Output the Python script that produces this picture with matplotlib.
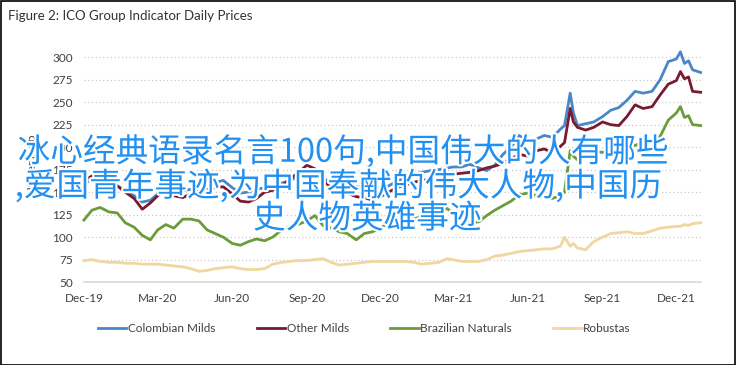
import matplotlib
matplotlib.use("Agg")
import matplotlib.pyplot as plt
import matplotlib.dates as mdates
import matplotlib.patheffects as pe
from matplotlib.patches import Rectangle
import pandas as pd

plt.rcParams["font.family"] = ["Lato", "DejaVu Sans"]

# ── data (US cents/lb) ────────────────────────────────────────────────────────
dates = [
    "2019-12-01", "2019-12-11", "2019-12-21",
    "2020-01-01", "2020-01-11", "2020-01-21", "2020-02-01", "2020-02-11", "2020-02-21",
    "2020-03-01", "2020-03-11", "2020-03-21", "2020-04-01", "2020-04-11", "2020-04-21",
    "2020-05-01", "2020-05-11", "2020-05-21", "2020-06-01", "2020-06-11", "2020-06-21",
    "2020-07-01", "2020-07-11", "2020-07-21", "2020-08-01", "2020-08-11", "2020-08-21",
    "2020-09-01", "2020-09-11", "2020-09-21", "2020-10-01", "2020-10-11", "2020-10-21",
    "2020-11-01", "2020-11-11", "2020-11-21", "2020-12-01", "2020-12-11", "2020-12-21",
    "2021-01-01", "2021-01-11", "2021-01-21", "2021-02-01", "2021-02-11", "2021-02-21",
    "2021-03-01", "2021-03-11", "2021-03-21", "2021-04-01", "2021-04-11", "2021-04-21",
    "2021-05-01", "2021-05-11", "2021-05-21", "2021-06-01", "2021-06-11", "2021-06-21",
    "2021-07-01", "2021-07-11", "2021-07-16", "2021-07-23", "2021-07-27",
    "2021-08-01", "2021-08-11", "2021-08-21",
    "2021-09-01", "2021-09-11", "2021-09-21", "2021-10-01", "2021-10-11", "2021-10-21",
    "2021-11-01", "2021-11-11", "2021-11-21",
    "2021-12-01", "2021-12-06", "2021-12-11", "2021-12-16", "2021-12-21", "2021-12-31",
]

colombian = [
    160, 163, 162,
    161, 157, 152, 146, 139, 141,
    148, 156, 154, 152, 153, 156,
    160, 161, 163, 155, 149, 150,
    153, 155, 156, 160, 163, 167,
    174, 172, 166, 160, 158, 157,
    156, 155, 153, 154, 157, 162,
    166, 170, 172, 174, 175, 177,
    178, 178, 181, 177, 174, 180,
    192, 200, 213, 206, 209, 213,
    211, 220, 224, 260, 238,
    224, 226, 228,
    234, 241, 244, 252, 262, 260,
    262, 275, 295,
    298, 306, 293, 296, 286, 283,
]

other_milds = [
    163, 168, 165,
    162, 157, 150, 143, 131, 138,
    146, 152, 146, 144, 148, 152,
    153, 155, 156, 148, 140, 139,
    143, 150, 152, 156, 165, 171,
    180, 176, 162, 156, 152, 149,
    145, 144, 141, 145, 150, 155,
    158, 161, 163, 164, 167, 168,
    170, 171, 172, 174, 177, 179,
    182, 187, 192, 190, 196, 198,
    194, 201, 205, 243, 228,
    222, 219, 222,
    228, 225, 224, 234, 247, 243,
    245, 258, 270,
    274, 284, 276, 278, 262, 261,
]

brazilian = [
    119, 130, 133,
    128, 127, 116, 111, 102, 97,
    108, 114, 110, 120, 120, 118,
    108, 104, 100, 93, 91, 95,
    98, 96, 100, 108, 112, 114,
    118, 124, 113, 110, 106, 104,
    97, 104, 106, 110, 116, 119,
    120, 121, 122, 123, 128, 132,
    126, 120, 116, 117, 124, 130,
    135, 140, 147, 149, 146, 145,
    143, 146, 150, 196, 190,
    186, 190, 196,
    194, 200, 197, 200, 202, 205,
    208, 212, 230,
    238, 245, 233, 235, 225, 224,
]

robustas = [
    74, 75, 73,
    72, 72, 71, 71, 70, 70,
    70, 69, 68, 67, 65, 62,
    63, 65, 66, 67, 65, 64,
    64, 65, 70, 72, 73, 74,
    74, 75, 76, 72, 69, 70,
    71, 72, 73, 73, 73, 73,
    73, 72, 70, 71, 72, 76,
    75, 73, 73, 73, 75, 79,
    80, 82, 84, 85, 86, 87,
    87, 90, 100, 90, 93,
    88, 86, 95,
    100, 104, 105, 106, 104, 104,
    107, 110, 111,
    112, 112, 114, 113, 115, 116,
]

series_names = ["Colombian Milds", "Other Milds", "Brazilian Naturals", "Robustas"]
series_colors = ["#4a86c8", "#7a1a30", "#6a9c3a", "#efd79f"]

y_ticks = [50, 75, 100, 125, 150, 175, 200, 225, 250, 275, 300]
x_ticks = ["2019-12-01", "2020-03-01", "2020-06-01", "2020-09-01", "2020-12-01",
           "2021-03-01", "2021-06-01", "2021-09-01", "2021-12-01"]

overlay_lines = ["冰心经典语录名言100句,中国伟大的人有哪些",
                 ",爱国青年事迹,为中国奉献的伟大人物,中国历",
                 "史人物英雄事迹"]

# ── figure ────────────────────────────────────────────────────────────────────
d = pd.to_datetime(dates)
fig = plt.figure(figsize=(7.36, 3.65), dpi=100)
ax = fig.add_axes([0.114, 0.227, 0.838, 0.641])

for vals, name, col in zip([colombian, other_milds, brazilian, robustas],
                           series_names, series_colors):
    ax.plot(d, vals, color=col, linewidth=2.0, label=name, clip_on=False)

ax.set_ylim(50, 310)
ax.set_yticks(y_ticks)
ax.set_xlim(pd.Timestamp("2019-12-01"), pd.Timestamp("2021-12-31"))
ax.set_xticks(pd.to_datetime(x_ticks))
ax.xaxis.set_major_formatter(mdates.DateFormatter("%b-%y"))
ax.tick_params(length=0, labelsize=8.5, colors="#404040")
ax.tick_params(axis="x", pad=8)
ax.tick_params(axis="y", pad=8)
ax.grid(axis="y", color="#c8c8c8", linestyle=(0, (1, 2)), linewidth=0.9)
ax.set_axisbelow(True)
for s in ["top", "right", "left"]:
    ax.spines[s].set_visible(False)
ax.spines["bottom"].set_color("#d9d9d9")
ax.spines["bottom"].set_linewidth(1.2)
ax.set_ylabel("US cents/lb", fontsize=8.5, color="#404040", labelpad=10)

fig.text(0.011, 0.955, "Figure 2: ICO Group Indicator Daily Prices",
         fontsize=9.5, color="#333333", va="center", ha="left")

leg = fig.legend(loc="center", bbox_to_anchor=(0.495, 0.099), ncol=4, frameon=False,
                 fontsize=8.5, handlelength=2.4, handletextpad=0.15, columnspacing=3.5,
                 labelcolor="#404040")
for h in leg.get_lines():
    h.set_linewidth(2.0)

fig.patches.append(Rectangle((0.001, 0.001), 0.997, 0.996, transform=fig.transFigure,
                             fill=False, edgecolor="black", linewidth=1.2))

# overlaid caption text
stroke = [pe.withStroke(linewidth=3, foreground="white")]
cap = dict(fontsize=23.5, color="#2290f0", family=["Noto Sans CJK SC"],
           weight="medium", va="center", path_effects=stroke)
fig.text(0.024, 0.584, overlay_lines[0], ha="left", **cap)
fig.text(0.020, 0.490, overlay_lines[1], ha="left", **cap)
fig.text(0.499, 0.400, overlay_lines[2], ha="center", **cap)

fig.savefig("out.png", dpi=100)
